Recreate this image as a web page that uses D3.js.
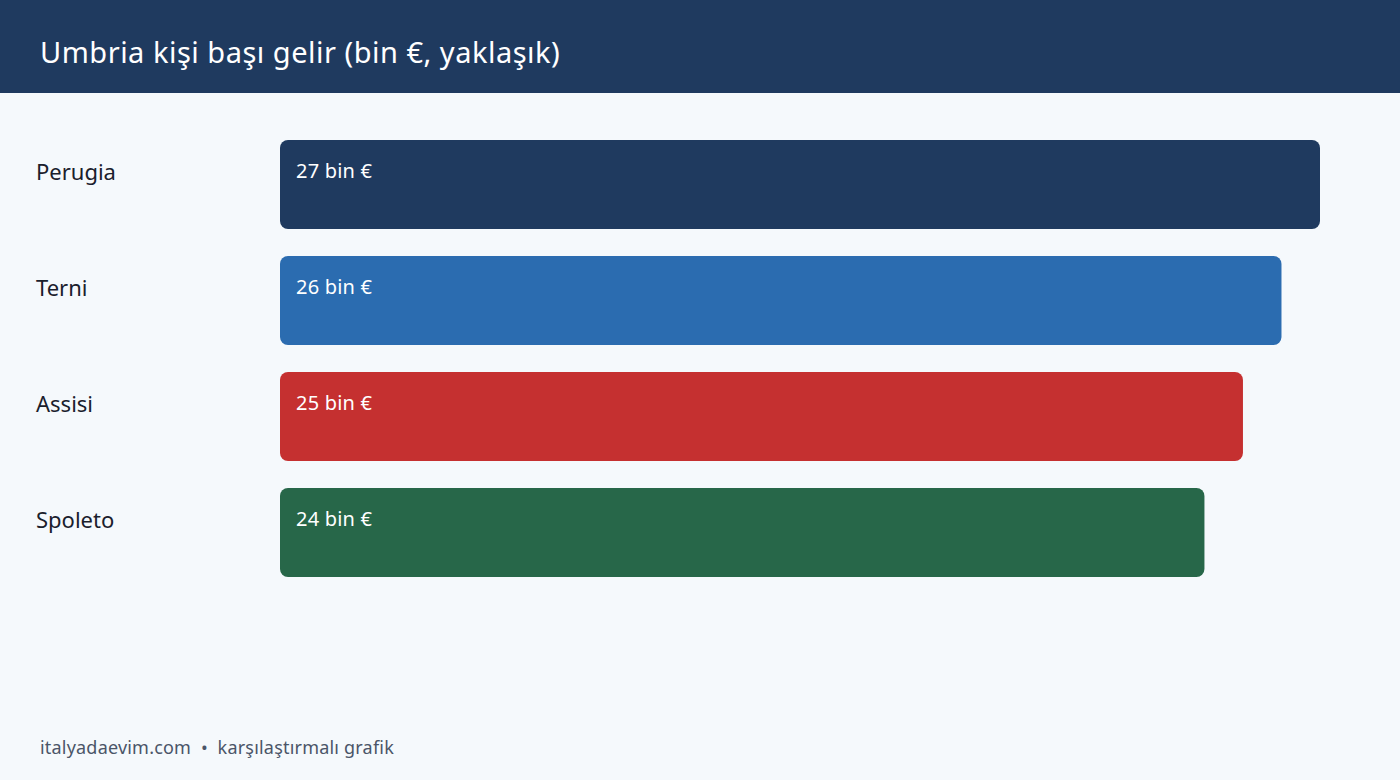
<!DOCTYPE html>
<html>
<head>
<meta charset="utf-8">
<script src="https://cdn.jsdelivr.net/npm/d3@7"></script>
<style>
  html, body { margin: 0; padding: 0; background: #f5f9fc; }
  svg { display: block; font-family: "Noto Sans", "Open Sans", sans-serif; }
</style>
</head>
<body>
<svg id="chart"></svg>
<script>
// chart size
const width = 1400;
const height = 780;
const headerHeight = 93;
const barLeft = 280;
const barMaxWidth = 1040;

// data
const cities = ["Perugia", "Terni", "Assisi", "Spoleto"];
const incomes = [27, 26, 25, 24];
const barColors = ["#1f3a5f", "#2b6cb0", "#c53030", "#276749"];

const svg = d3.select("#chart")
  .attr("width", width)
  .attr("height", height);

svg.append("rect")
  .attr("width", width).attr("height", height)
  .attr("fill", "#f5f9fc");

// header
svg.append("rect")
  .attr("width", width).attr("height", headerHeight)
  .attr("fill", "#1f3a5f");

svg.append("text")
  .attr("x", 40).attr("y", 63)
  .attr("fill", "#ffffff")
  .attr("font-size", 29)
  .attr("letter-spacing", 0.5)
  .text("Umbria kişi başı gelir (bin €, yaklaşık)");

// scales
const x = d3.scaleLinear()
  .domain([0, d3.max(incomes)])
  .range([0, barMaxWidth]);

const y = d3.scaleBand()
  .domain(cities)
  .range([140, 577])
  .paddingInner(27 / 116)
  .paddingOuter(0);

const rows = svg.selectAll("g.row")
  .data(cities)
  .join("g")
  .attr("class", "row")
  .attr("transform", d => `translate(0, ${y(d)})`);

rows.append("text")
  .attr("x", 36).attr("y", 40)
  .attr("fill", "#1a202c")
  .attr("font-size", 22)
  .text(d => d);

rows.append("rect")
  .attr("x", barLeft).attr("y", 0)
  .attr("width", (d, i) => x(incomes[i]))
  .attr("height", y.bandwidth())
  .attr("rx", 8).attr("ry", 8)
  .attr("fill", (d, i) => barColors[i]);

rows.append("text")
  .attr("x", barLeft + 16).attr("y", 38)
  .attr("fill", "#ffffff")
  .attr("font-size", 20)
  .attr("letter-spacing", 0.2)
  .text((d, i) => `${incomes[i]} bin €`);

// footer
svg.append("text")
  .attr("x", 40).attr("y", 754)
  .attr("fill", "#4a5568")
  .attr("font-size", 18)
  .attr("letter-spacing", 0.2)
  .style("white-space", "pre")
  .text("italyadaevim.com  •  karşılaştırmalı grafik");
</script>
</body>
</html>
